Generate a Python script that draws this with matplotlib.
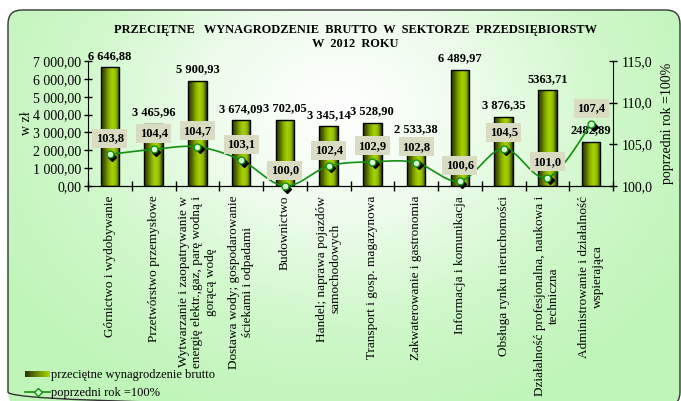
import numpy as np
import matplotlib
matplotlib.use('Agg')
import matplotlib.pyplot as plt
import matplotlib.transforms as mtransforms
from matplotlib.patches import FancyBboxPatch, Rectangle
from matplotlib.colors import LinearSegmentedColormap
from matplotlib.lines import Line2D
from matplotlib.legend_handler import HandlerBase

plt.rcParams['font.family'] = ['Liberation Serif', 'DejaVu Serif']

# data
categories = [
    'Górnictwo i wydobywanie',
    'Przetwórstwo przemysłowe',
    'Wytwarzanie i zaopatrywanie w\nenergię elektr.,gaz, parę wodną i\ngorącą wodę',
    'Dostawa wody; gospodarowanie\nściekami i odpadami',
    'Budownictwo',
    'Handel; naprawa pojazdów\nsamochodowych',
    'Transport i gosp. magazynowa',
    'Zakwaterowanie i gastronomia',
    'Informacja i komunikacja',
    'Obsługa rynku nieruchomości',
    'Działalność profesjonalna, naukowa i\ntechniczna',
    'Administrowanie i działalność\nwspierająca',
]
wages = [6646.88, 3465.96, 5900.93, 3674.09, 3702.05, 3345.14,
         3528.90, 2533.38, 6489.97, 3876.35, 5363.71, 2482.89]
wage_labels = ['6 646,88', '3 465,96', '5 900,93', '3 674,09', '3 702,05', '3 345,14',
               '3 528,90', '2 533,38', '6 489,97', '3 876,35', '5363,71', '2482,89']
prev_year = [103.8, 104.4, 104.7, 103.1, 100.0, 102.4,
             102.9, 102.8, 100.6, 104.5, 101.0, 107.4]
left_ticks = [0, 1000, 2000, 3000, 4000, 5000, 6000, 7000]
right_ticks = [100.0, 105.0, 110.0, 115.0]

W, H = 681, 401
fig = plt.figure(figsize=(W / 100, H / 100), dpi=100)
fig.patch.set_facecolor('white')

# background panel with rounded frame and soft gradient
bg = fig.add_axes([0, 0, 1, 1], zorder=-5)
bg.set_xlim(0, W)
bg.set_ylim(H, 0)
bg.axis('off')
frame = FancyBboxPatch((8, 10), 672, 396, boxstyle='round,pad=0,rounding_size=14',
                       fc='none', ec='#333333', lw=1.0, zorder=3)
bg.add_patch(frame)
gx, gy = np.meshgrid(np.linspace(0, W, 200), np.linspace(0, H, 120))
r = np.sqrt(((gx - 340) / 400) ** 2 + ((gy - 110) / 320) ** 2)
r = np.clip(r, 0, 1)
bg_cmap = LinearSegmentedColormap.from_list('bg', ['#ffffff', '#eefcec', '#d0f8ca', '#c0f5b9'])
im = bg.imshow(r, extent=(0, W, H, 0), cmap=bg_cmap, vmin=0, vmax=1, aspect='auto', zorder=1)
clip = FancyBboxPatch((8, 10), 672, 396, boxstyle='round,pad=0,rounding_size=14',
                      fc='none', ec='none', transform=bg.transData)
im.set_clip_path(clip)

ax = fig.add_axes([88 / W, 1 - 186 / H, (613 - 88) / W, 125 / H])
ax.patch.set_visible(False)
ax2 = ax.twinx()

x = np.arange(len(categories))
bars = ax.bar(x, wages, width=0.42, color='none', edgecolor='black', linewidth=1.0, zorder=3)

bar_cmap = LinearSegmentedColormap.from_list(
    'bar', ['#2b3500', '#4f6600', '#86ad00', '#a6d400', '#8fb800', '#2b3500'])
grad = np.linspace(0, 1, 64).reshape(1, -1)
for b in bars:
    bx, by = b.get_x(), b.get_y()
    gim = ax.imshow(grad, extent=(bx, bx + b.get_width(), by, by + b.get_height()),
                    cmap=bar_cmap, aspect='auto', zorder=2)
    gim.set_clip_path(b)

for xi, v, lab in zip(x, wages, wage_labels):
    ax.annotate(lab, (xi, v), xytext=(0, 4), textcoords='offset points',
                ha='center', va='bottom', fontsize=9, fontweight='bold')

ax.set_xlim(-0.5, len(categories) - 0.5)
ax.set_ylim(0, 7000)
ax.set_yticks(left_ticks)
ax.set_yticklabels([f'{v:,.2f}'.replace(',', ' ').replace('.', ',') for v in left_ticks], fontsize=10)
ax.set_xticks(x)
ax.set_xticklabels(categories, rotation=90, fontsize=9.5, va='top', ha='center',
                   multialignment='center')
ax.set_xticks(np.arange(-0.5, len(categories), 1), minor=True)
ax.tick_params(axis='x', which='major', length=0, pad=7)
ax.tick_params(axis='x', which='minor', direction='inout', length=7, width=1)
ax.tick_params(axis='y', direction='inout', length=6, width=1, pad=2)
ax.set_ylabel('w zł', fontsize=10, labelpad=0)
for s in ['top', 'right']:
    ax.spines[s].set_visible(False)

# smoothed line (Catmull-Rom through the points)
px = np.array(x, dtype=float)
py = np.array(prev_year)
ext_x = np.concatenate([[px[0]], px, [px[-1]]])
ext_y = np.concatenate([[py[0]], py, [py[-1]]])
sx, sy = [], []
for i in range(1, len(ext_x) - 2):
    t = np.linspace(0, 1, 30)
    for arr, out in ((ext_x, sx), (ext_y, sy)):
        p0, p1, p2, p3 = arr[i - 1], arr[i], arr[i + 1], arr[i + 2]
        out.extend(0.5 * (2 * p1 + (-p0 + p2) * t + (2 * p0 - 5 * p1 + 4 * p2 - p3) * t ** 2
                          + (-p0 + 3 * p1 - 3 * p2 + p3) * t ** 3))
ax2.plot(sx, sy, color='#129012', lw=1.2, zorder=3, clip_on=False)
shadow = mtransforms.offset_copy(ax2.transData, fig=fig, x=2.5, y=-2.5, units='dots')
ax2.plot(px, py, ls='none', marker='D', ms=4.5, color='black', transform=shadow, zorder=3,
         clip_on=False)
ax2.plot(px, py, ls='none', marker='o', ms=5, mfc='#d4ffd0', mec='#129012', mew=1.0,
         zorder=4, clip_on=False)
for xi, v in zip(px, py):
    ax2.annotate(f'{v:.1f}'.replace('.', ','), (xi, v), xytext=(0, 11.5), textcoords='offset points',
                 ha='center', va='center', fontsize=9, fontweight='bold', zorder=5,
                 bbox=dict(boxstyle='square,pad=0.28', fc='#d9dcc2', ec='none'))

ax2.set_ylim(100, 115)
ax2.set_yticks(right_ticks)
ax2.set_yticklabels([f'{v:.1f}'.replace('.', ',') for v in right_ticks], fontsize=10)
ax2.tick_params(axis='y', direction='inout', length=6, width=1, pad=3)
ax2.set_ylabel('poprzedni rok =100%', fontsize=10, labelpad=6)
ax2.spines['top'].set_visible(False)
ax2.spines['left'].set_visible(False)

fig.text(355 / W, 1 - 37 / H,
         'PRZECIĘTNE   WYNAGRODZENIE  BRUTTO  W  SEKTORZE  PRZEDSIĘBIORSTW\nW  2012  ROKU',
         ha='center', va='center', fontsize=8.9, fontweight='bold', linespacing=1.15)


class GradientBarHandler(HandlerBase):
    def create_artists(self, legend, orig_handle, xdescent, ydescent, width, height, fontsize, trans):
        cols = LinearSegmentedColormap.from_list('lg', ['#2b3500', '#6b8a00', '#a6d400'])
        n = 20
        arts = []
        for k in range(n):
            arts.append(Rectangle((-xdescent + width * k / n, -ydescent + height * 0.15),
                                  width / n + 0.3, height * 0.7, fc=cols(k / (n - 1)), ec='none',
                                  transform=trans))
        return arts


bar_handle = Rectangle((0, 0), 1, 1)
line_handle = Line2D([], [], color='#129012', lw=1.2, marker='D', ms=4.5, mfc='#d4ffd0', mec='#129012')
fig.legend([bar_handle, line_handle],
           ['przeciętne wynagrodzenie brutto', 'poprzedni rok =100%'],
           handler_map={Rectangle: GradientBarHandler()},
           loc='lower left', bbox_to_anchor=(20 / W, 1 - 404 / H), frameon=False,
           fontsize=9, handlelength=2.0, handletextpad=0.1, labelspacing=0.45,
           borderaxespad=0)

fig.savefig('out.png', dpi=100)
